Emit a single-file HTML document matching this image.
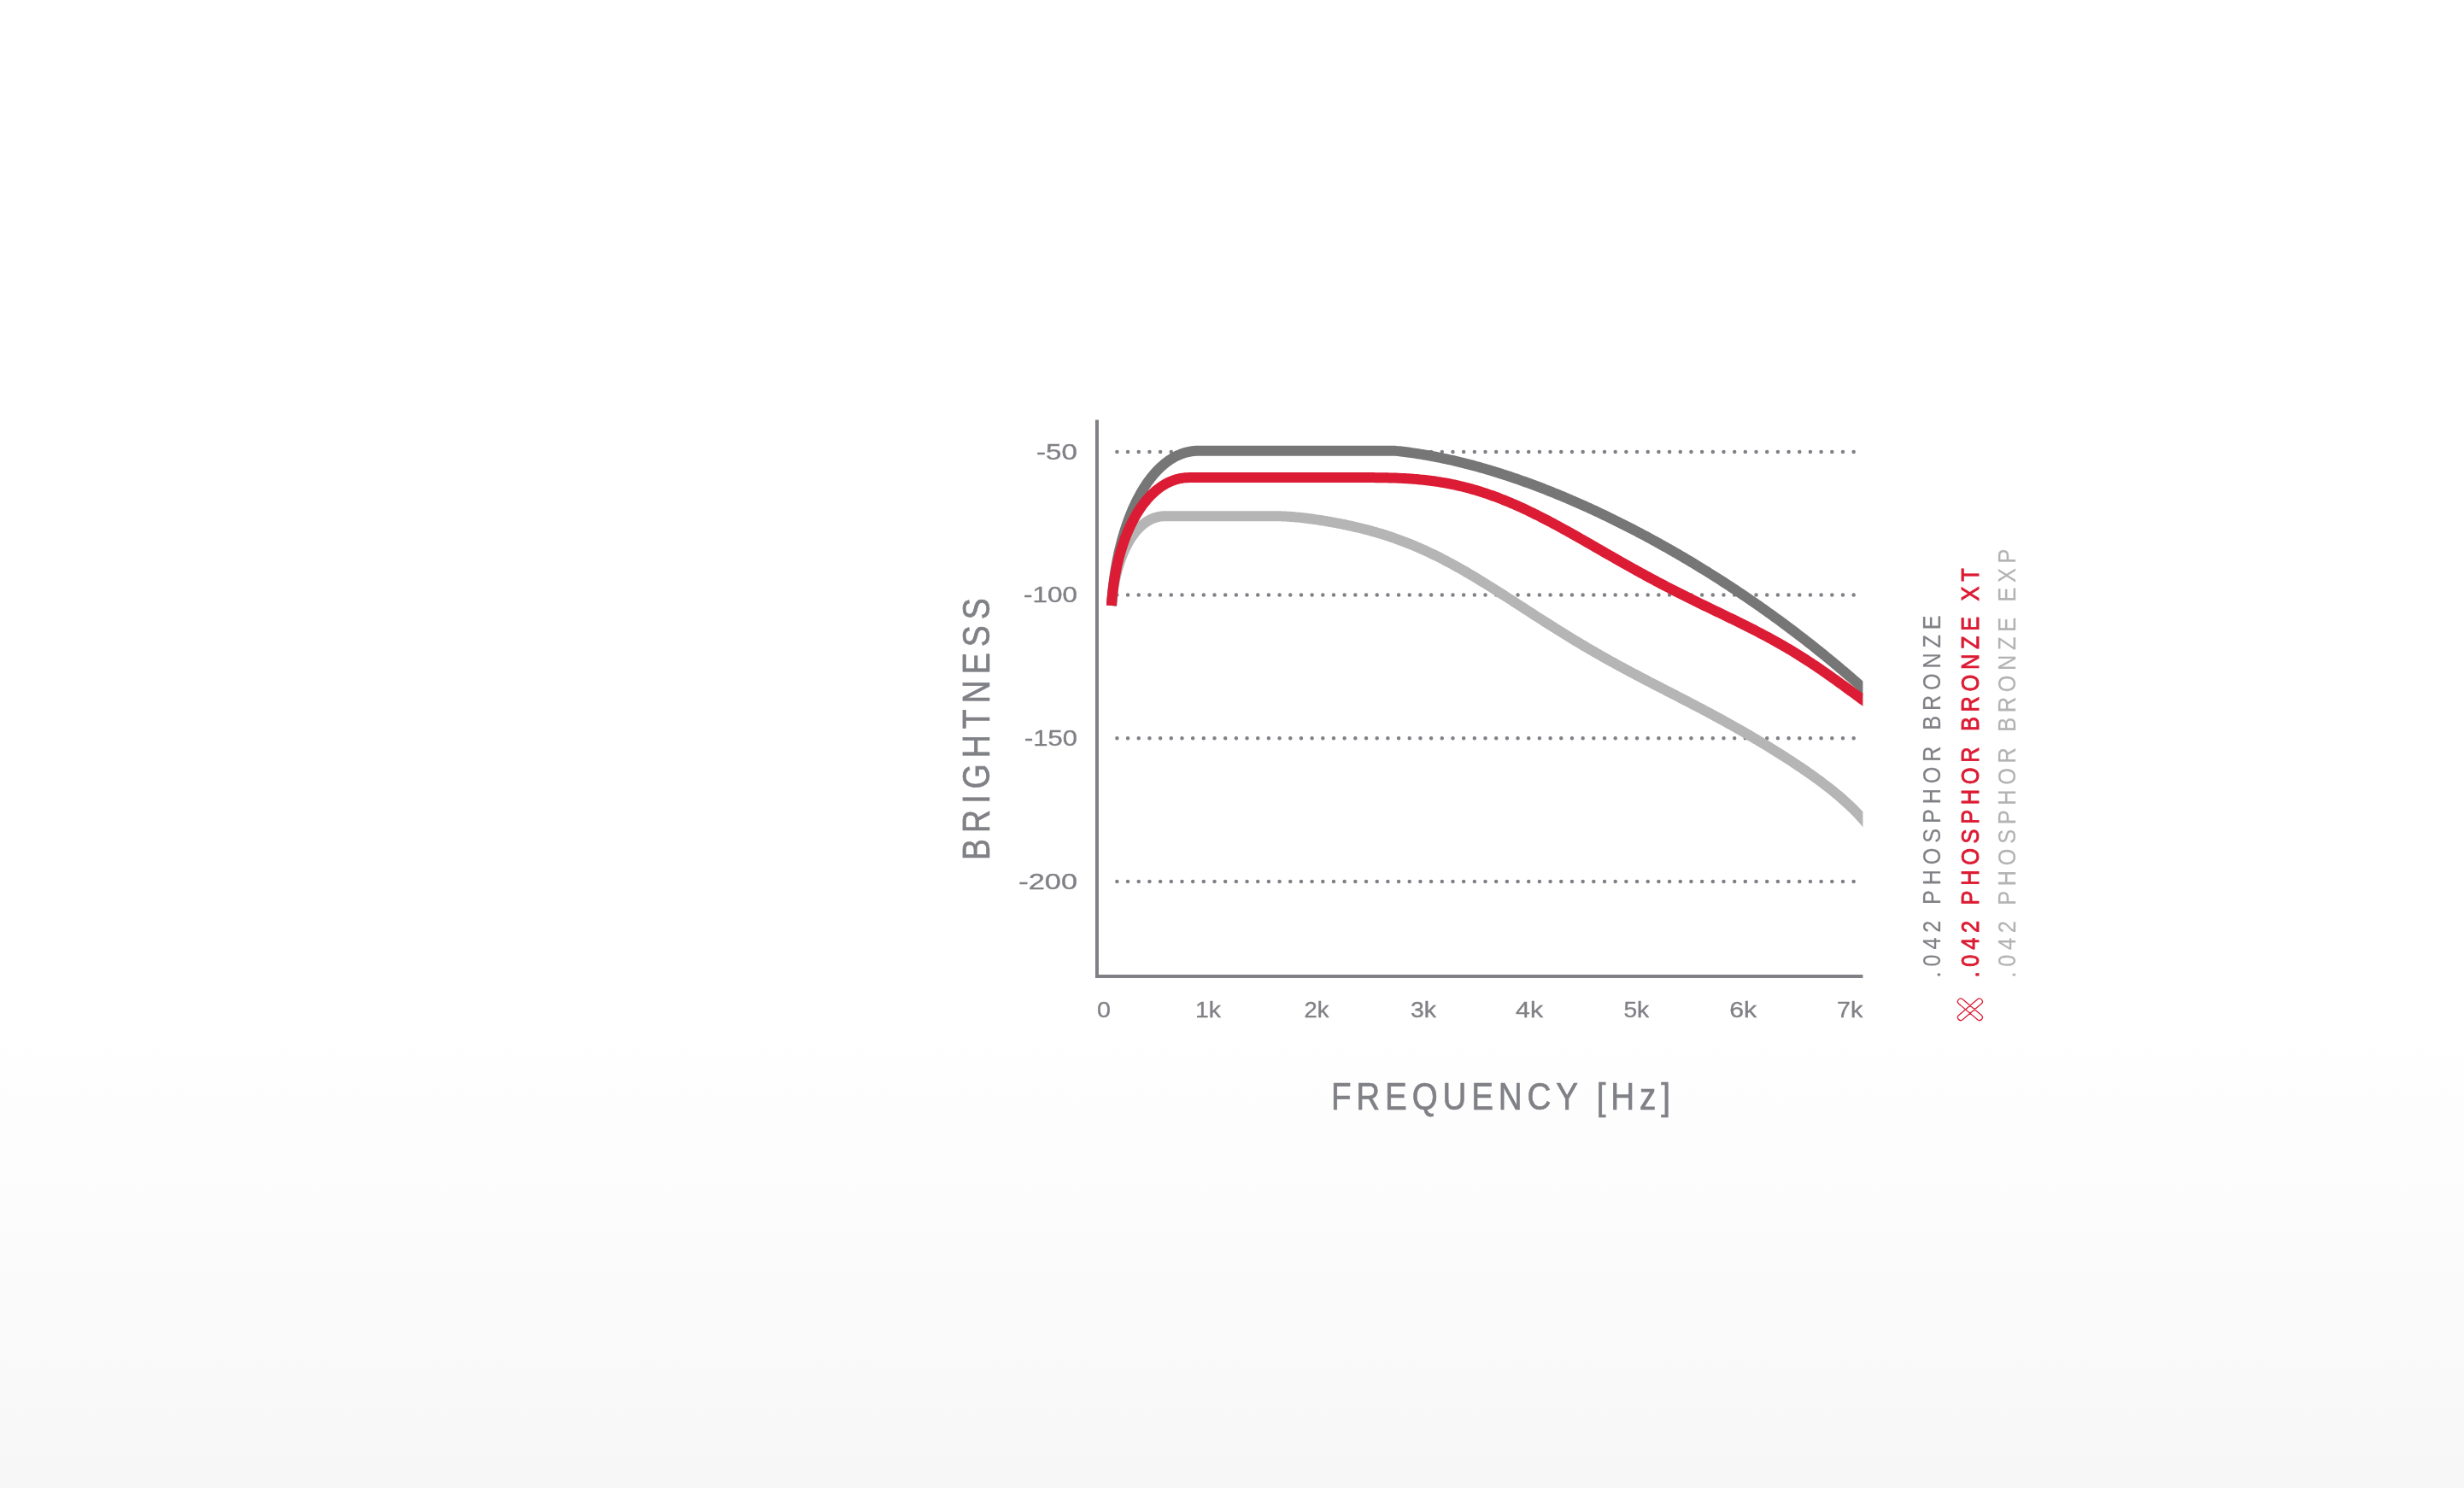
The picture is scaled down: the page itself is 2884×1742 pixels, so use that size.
<!DOCTYPE html><html><head><meta charset="utf-8"><title>Brightness vs Frequency</title><style>
html,body{margin:0;padding:0;}
body{width:2884px;height:1742px;overflow:hidden;position:relative;background:linear-gradient(to bottom,#ffffff 0px,#ffffff 1185px,#f7f7f7 1742px);}
svg{position:absolute;left:0;top:0;will-change:transform;}
text{font-family:'Liberation Sans', 'DejaVu Sans', sans-serif;}
</style></head><body>
<svg width="2884" height="1742" viewBox="0 0 2884 1742">
<defs><clipPath id="plot"><rect x="1286" y="480" width="894.4" height="700"/></clipPath></defs>
<g stroke="#808186" stroke-width="4.5" stroke-linecap="round" stroke-dasharray="0 12.68">
<line x1="1307.4" y1="528.9" x2="2170.7" y2="528.9"/>
<line x1="1307.4" y1="696.5" x2="2170.7" y2="696.5"/>
<line x1="1307.4" y1="864.3" x2="2170.7" y2="864.3"/>
<line x1="1307.4" y1="1031.9" x2="2170.7" y2="1031.9"/>
</g>
<g clip-path="url(#plot)" fill="none" stroke-width="12" stroke-linejoin="round" stroke-linecap="butt">
<path stroke="#b5b5b5" d="M1301 709L1301.22 706.13L1301.47 703.28L1301.75 700.45L1302.06 697.63L1302.41 694.84L1302.79 692.08L1303.2 689.33L1303.64 686.61L1304.11 683.92L1304.61 681.25L1305.15 678.61L1305.71 676L1306.3 673.42L1306.93 670.87L1307.58 668.35L1308.26 665.86L1308.97 663.41L1309.71 660.99L1310.48 658.61L1311.27 656.26L1312.1 653.95L1312.95 651.69L1313.83 649.46L1314.73 647.27L1315.66 645.12L1316.62 643.02L1317.61 640.96L1318.62 638.95L1319.65 636.98L1320.71 635.06L1321.8 633.18L1322.91 631.36L1324.05 629.58L1325.21 627.86L1326.39 626.19L1327.6 624.57L1328.83 623.01L1330.08 621.5L1331.36 620.04L1332.66 618.65L1333.98 617.31L1335.33 616.03L1336.69 614.81L1338.08 613.66L1339.49 612.56L1340.92 611.53L1342.37 610.56L1343.84 609.66L1345.33 608.82L1346.84 608.06L1348.38 607.36L1349.93 606.73L1351.5 606.17L1353.09 605.68L1354.69 605.26L1356.32 604.92L1357.96 604.65L1359.62 604.46L1361.3 604.34L1363 604.3L1495 604.3L1497 604.31L1499 604.34L1501 604.4L1503 604.47L1505 604.56L1507 604.67L1509 604.79L1511 604.93L1513 605.08L1515 605.25L1517 605.43L1519 605.62L1521 605.82L1523 606.04L1525 606.26L1527 606.49L1529 606.74L1531 606.99L1533 607.25L1535 607.52L1537 607.79L1539 608.08L1541 608.37L1543 608.67L1545 608.98L1547 609.29L1549 609.61L1551 609.94L1553 610.27L1555 610.62L1557 610.96L1559 611.32L1561 611.68L1563 612.05L1565 612.43L1567 612.81L1569 613.2L1571 613.6L1573 614L1575 614.42L1577 614.84L1579 615.26L1581 615.7L1583 616.14L1585 616.6L1587 617.06L1589 617.53L1591 618.01L1593 618.49L1595 618.99L1597 619.49L1599 620.01L1601 620.53L1603 621.07L1605 621.61L1607 622.17L1609 622.73L1611 623.31L1613 623.89L1615 624.49L1617 625.1L1619 625.71L1621 626.34L1623 626.98L1625 627.64L1627 628.3L1629 628.97L1631 629.66L1633 630.36L1635 631.07L1637 631.79L1639 632.52L1641 633.27L1643 634.03L1645 634.8L1647 635.58L1649 636.38L1651 637.18L1653 638L1655 638.83L1657 639.67L1659 640.53L1661 641.4L1663 642.28L1665 643.17L1667 644.07L1669 644.99L1671 645.92L1673 646.85L1675 647.8L1677 648.77L1679 649.74L1681 650.73L1683 651.72L1685 652.73L1687 653.75L1689 654.78L1691 655.82L1693 656.87L1695 657.93L1697 659L1699 660.08L1701 661.17L1703 662.28L1705 663.39L1707 664.51L1709 665.63L1711 666.77L1713 667.92L1715 669.07L1717 670.24L1719 671.41L1721 672.59L1723 673.77L1725 674.97L1727 676.17L1729 677.37L1731 678.59L1733 679.81L1735 681.03L1737 682.27L1739 683.5L1741 684.75L1743 685.99L1745 687.25L1747 688.5L1749 689.77L1751 691.03L1753 692.3L1755 693.57L1757 694.85L1759 696.13L1761 697.41L1763 698.7L1765 699.98L1767 701.27L1769 702.56L1771 703.85L1773 705.14L1775 706.44L1777 707.73L1779 709.03L1781 710.32L1783 711.62L1785 712.91L1787 714.21L1789 715.5L1791 716.8L1793 718.09L1795 719.38L1797 720.67L1799 721.96L1801 723.24L1803 724.53L1805 725.81L1807 727.09L1809 728.36L1811 729.64L1813 730.91L1815 732.18L1817 733.44L1819 734.7L1821 735.96L1823 737.21L1825 738.47L1827 739.71L1829 740.95L1831 742.19L1833 743.43L1835 744.66L1837 745.88L1839 747.11L1841 748.32L1843 749.54L1845 750.74L1847 751.95L1849 753.15L1851 754.34L1853 755.53L1855 756.71L1857 757.89L1859 759.07L1861 760.24L1863 761.4L1865 762.56L1867 763.72L1869 764.87L1871 766.01L1873 767.15L1875 768.29L1877 769.42L1879 770.55L1881 771.67L1883 772.79L1885 773.9L1887 775.01L1889 776.11L1891 777.21L1893 778.31L1895 779.4L1897 780.49L1899 781.57L1901 782.65L1903 783.73L1905 784.8L1907 785.87L1909 786.94L1911 788L1913 789.06L1915 790.12L1917 791.17L1919 792.22L1921 793.27L1923 794.32L1925 795.37L1927 796.41L1929 797.45L1931 798.49L1933 799.52L1935 800.56L1937 801.59L1939 802.63L1941 803.66L1943 804.69L1945 805.72L1947 806.75L1949 807.78L1951 808.81L1953 809.84L1955 810.87L1957 811.89L1959 812.92L1961 813.95L1963 814.98L1965 816.02L1967 817.05L1969 818.08L1971 819.12L1973 820.15L1975 821.19L1977 822.23L1979 823.27L1981 824.32L1983 825.36L1985 826.41L1987 827.46L1989 828.51L1991 829.57L1993 830.62L1995 831.68L1997 832.75L1999 833.81L2001 834.88L2003 835.96L2005 837.03L2007 838.11L2009 839.2L2011 840.28L2013 841.37L2015 842.47L2017 843.57L2019 844.67L2021 845.77L2023 846.88L2025 848L2027 849.12L2029 850.24L2031 851.37L2033 852.5L2035 853.63L2037 854.77L2039 855.92L2041 857.07L2043 858.22L2045 859.38L2047 860.54L2049 861.71L2051 862.89L2053 864.06L2055 865.25L2057 866.43L2059 867.63L2061 868.83L2063 870.03L2065 871.24L2067 872.45L2069 873.67L2071 874.89L2073 876.12L2075 877.36L2077 878.6L2079 879.85L2081 881.1L2083 882.36L2085 883.62L2087 884.89L2089 886.17L2091 887.45L2093 888.74L2095 890.04L2097 891.35L2099 892.66L2101 893.98L2103 895.31L2105 896.64L2107 897.99L2109 899.34L2111 900.7L2113 902.07L2115 903.46L2117 904.85L2119 906.25L2121 907.67L2123 909.09L2125 910.53L2127 911.99L2129 913.45L2131 914.93L2133 916.43L2135 917.94L2137 919.47L2139 921.01L2141 922.58L2143 924.16L2145 925.77L2147 927.39L2149 929.04L2151 930.71L2153 932.41L2155 934.13L2157 935.88L2159 937.67L2161 939.48L2163 941.32L2165 943.2L2167 945.11L2169 947.06L2171 949.05L2173 951.09L2175 953.16L2177 955.28L2179 957.45L2181 959.67L2183 961.95L2185 964.28L2187 966.66L2189 969.11L2191 971.62L2193 974.2L2195 976.85"/>
<path stroke="#767676" d="M1301 709L1301.33 704.03L1301.71 699.09L1302.15 694.19L1302.65 689.32L1303.2 684.49L1303.8 679.69L1304.46 674.94L1305.17 670.23L1305.93 665.57L1306.74 660.95L1307.61 656.38L1308.53 651.85L1309.49 647.38L1310.51 642.97L1311.58 638.6L1312.7 634.3L1313.86 630.05L1315.08 625.86L1316.34 621.74L1317.64 617.68L1319 613.68L1320.4 609.75L1321.85 605.89L1323.34 602.11L1324.88 598.39L1326.46 594.75L1328.08 591.18L1329.75 587.69L1331.46 584.28L1333.21 580.96L1335.01 577.71L1336.84 574.55L1338.72 571.48L1340.64 568.5L1342.59 565.6L1344.59 562.8L1346.62 560.09L1348.7 557.48L1350.81 554.96L1352.96 552.54L1355.14 550.23L1357.36 548.01L1359.62 545.91L1361.91 543.9L1364.24 542.01L1366.6 540.22L1369 538.54L1371.43 536.98L1373.89 535.54L1376.38 534.2L1378.91 532.99L1381.47 531.9L1384.05 530.93L1386.67 530.08L1389.32 529.36L1392 528.77L1394.71 528.3L1397.44 527.97L1400.21 527.77L1403 527.7L1632 527.7L1634 527.9L1636 528.11L1638 528.33L1640 528.56L1642 528.79L1644 529.04L1646 529.29L1648 529.55L1650 529.81L1652 530.09L1654 530.37L1656 530.66L1658 530.96L1660 531.27L1662 531.58L1664 531.91L1666 532.24L1668 532.57L1670 532.92L1672 533.27L1674 533.63L1676 534L1678 534.37L1680 534.75L1682 535.14L1684 535.54L1686 535.94L1688 536.35L1690 536.77L1692 537.19L1694 537.63L1696 538.07L1698 538.51L1700 538.96L1702 539.42L1704 539.89L1706 540.36L1708 540.84L1710 541.33L1712 541.82L1714 542.32L1716 542.83L1718 543.34L1720 543.86L1722 544.39L1724 544.92L1726 545.46L1728 546.01L1730 546.56L1732 547.12L1734 547.68L1736 548.25L1738 548.83L1740 549.42L1742 550L1744 550.6L1746 551.2L1748 551.81L1750 552.43L1752 553.05L1754 553.67L1756 554.3L1758 554.94L1760 555.59L1762 556.24L1764 556.89L1766 557.55L1768 558.22L1770 558.89L1772 559.57L1774 560.26L1776 560.95L1778 561.65L1780 562.35L1782 563.05L1784 563.77L1786 564.49L1788 565.21L1790 565.94L1792 566.68L1794 567.42L1796 568.16L1798 568.91L1800 569.67L1802 570.43L1804 571.2L1806 571.97L1808 572.75L1810 573.54L1812 574.33L1814 575.12L1816 575.92L1818 576.73L1820 577.54L1822 578.35L1824 579.17L1826 580L1828 580.83L1830 581.66L1832 582.5L1834 583.35L1836 584.2L1838 585.06L1840 585.92L1842 586.79L1844 587.66L1846 588.53L1848 589.42L1850 590.3L1852 591.19L1854 592.09L1856 592.99L1858 593.9L1860 594.81L1862 595.72L1864 596.65L1866 597.57L1868 598.5L1870 599.44L1872 600.38L1874 601.32L1876 602.27L1878 603.23L1880 604.19L1882 605.15L1884 606.12L1886 607.1L1888 608.08L1890 609.06L1892 610.05L1894 611.04L1896 612.04L1898 613.04L1900 614.05L1902 615.06L1904 616.08L1906 617.1L1908 618.13L1910 619.16L1912 620.19L1914 621.24L1916 622.28L1918 623.33L1920 624.39L1922 625.45L1924 626.51L1926 627.58L1928 628.65L1930 629.73L1932 630.81L1934 631.9L1936 632.99L1938 634.09L1940 635.19L1942 636.3L1944 637.41L1946 638.53L1948 639.65L1950 640.77L1952 641.9L1954 643.04L1956 644.18L1958 645.32L1960 646.47L1962 647.63L1964 648.79L1966 649.95L1968 651.12L1970 652.29L1972 653.47L1974 654.65L1976 655.84L1978 657.03L1980 658.23L1982 659.43L1984 660.64L1986 661.85L1988 663.06L1990 664.29L1992 665.51L1994 666.74L1996 667.98L1998 669.22L2000 670.47L2002 671.72L2004 672.97L2006 674.23L2008 675.5L2010 676.77L2012 678.04L2014 679.32L2016 680.61L2018 681.9L2020 683.2L2022 684.5L2024 685.8L2026 687.11L2028 688.43L2030 689.75L2032 691.08L2034 692.41L2036 693.74L2038 695.09L2040 696.43L2042 697.79L2044 699.14L2046 700.51L2048 701.87L2050 703.25L2052 704.62L2054 706.01L2056 707.4L2058 708.79L2060 710.19L2062 711.6L2064 713.01L2066 714.43L2068 715.85L2070 717.27L2072 718.71L2074 720.15L2076 721.59L2078 723.04L2080 724.5L2082 725.96L2084 727.42L2086 728.9L2088 730.37L2090 731.86L2092 733.35L2094 734.84L2096 736.34L2098 737.85L2100 739.37L2102 740.88L2104 742.41L2106 743.94L2108 745.48L2110 747.02L2112 748.57L2114 750.13L2116 751.69L2118 753.25L2120 754.83L2122 756.41L2124 757.99L2126 759.59L2128 761.19L2130 762.79L2132 764.4L2134 766.02L2136 767.65L2138 769.28L2140 770.92L2142 772.56L2144 774.21L2146 775.87L2148 777.53L2150 779.2L2152 780.88L2154 782.57L2156 784.26L2158 785.95L2160 787.66L2162 789.37L2164 791.09L2166 792.82L2168 794.55L2170 796.29L2172 798.04L2174 799.79L2176 801.55L2178 803.32L2180 805.1L2182 806.88L2184 808.67L2186 810.47L2188 812.28L2190 814.09L2192 815.91L2194 817.74L2196 819.57"/>
<path stroke="#dc1c34" d="M1301 709L1301.28 704.89L1301.6 700.81L1301.98 696.75L1302.41 692.73L1302.89 688.73L1303.41 684.77L1303.99 680.84L1304.61 676.95L1305.28 673.09L1306 669.27L1306.77 665.49L1307.58 661.75L1308.44 658.06L1309.34 654.4L1310.29 650.8L1311.28 647.24L1312.32 643.73L1313.4 640.26L1314.53 636.85L1315.69 633.49L1316.9 630.19L1318.15 626.94L1319.44 623.75L1320.78 620.62L1322.15 617.55L1323.56 614.53L1325.02 611.59L1326.51 608.7L1328.04 605.88L1329.61 603.13L1331.21 600.45L1332.85 597.84L1334.53 595.3L1336.25 592.83L1338 590.44L1339.79 588.12L1341.61 585.88L1343.46 583.72L1345.35 581.64L1347.27 579.64L1349.23 577.73L1351.22 575.9L1353.24 574.15L1355.29 572.5L1357.37 570.93L1359.48 569.45L1361.62 568.07L1363.8 566.77L1366 565.58L1368.23 564.48L1370.49 563.48L1372.77 562.57L1375.09 561.77L1377.42 561.07L1379.79 560.47L1382.18 559.98L1384.6 559.6L1387.04 559.32L1389.51 559.16L1392 559.1L1580 559.1L1582 559.1L1584 559.1L1586 559.1L1588 559.09L1590 559.09L1592 559.09L1594 559.09L1596 559.09L1598 559.09L1600 559.09L1602 559.1L1604 559.1L1606 559.11L1608 559.12L1610 559.14L1612 559.15L1614 559.17L1616 559.19L1618 559.22L1620 559.25L1622 559.29L1624 559.33L1626 559.38L1628 559.43L1630 559.49L1632 559.55L1634 559.62L1636 559.7L1638 559.78L1640 559.87L1642 559.97L1644 560.07L1646 560.19L1648 560.31L1650 560.44L1652 560.57L1654 560.72L1656 560.88L1658 561.04L1660 561.22L1662 561.41L1664 561.6L1666 561.81L1668 562.02L1670 562.25L1672 562.49L1674 562.74L1676 563L1678 563.27L1680 563.55L1682 563.84L1684 564.15L1686 564.47L1688 564.8L1690 565.14L1692 565.5L1694 565.87L1696 566.25L1698 566.64L1700 567.05L1702 567.46L1704 567.9L1706 568.34L1708 568.8L1710 569.27L1712 569.75L1714 570.25L1716 570.76L1718 571.29L1720 571.82L1722 572.37L1724 572.94L1726 573.52L1728 574.11L1730 574.71L1732 575.33L1734 575.96L1736 576.6L1738 577.26L1740 577.93L1742 578.61L1744 579.3L1746 580.01L1748 580.73L1750 581.46L1752 582.21L1754 582.97L1756 583.74L1758 584.52L1760 585.32L1762 586.12L1764 586.94L1766 587.77L1768 588.61L1770 589.47L1772 590.33L1774 591.2L1776 592.09L1778 592.99L1780 593.89L1782 594.81L1784 595.74L1786 596.68L1788 597.62L1790 598.58L1792 599.55L1794 600.52L1796 601.51L1798 602.5L1800 603.5L1802 604.51L1804 605.53L1806 606.55L1808 607.59L1810 608.63L1812 609.68L1814 610.73L1816 611.79L1818 612.86L1820 613.93L1822 615.01L1824 616.1L1826 617.19L1828 618.28L1830 619.39L1832 620.49L1834 621.6L1836 622.72L1838 623.83L1840 624.96L1842 626.08L1844 627.21L1846 628.34L1848 629.48L1850 630.62L1852 631.76L1854 632.9L1856 634.04L1858 635.19L1860 636.33L1862 637.48L1864 638.63L1866 639.78L1868 640.93L1870 642.08L1872 643.23L1874 644.38L1876 645.53L1878 646.68L1880 647.83L1882 648.98L1884 650.13L1886 651.27L1888 652.42L1890 653.56L1892 654.7L1894 655.84L1896 656.98L1898 658.11L1900 659.25L1902 660.38L1904 661.5L1906 662.63L1908 663.75L1910 664.87L1912 665.98L1914 667.09L1916 668.2L1918 669.31L1920 670.41L1922 671.51L1924 672.6L1926 673.69L1928 674.78L1930 675.86L1932 676.94L1934 678.01L1936 679.08L1938 680.15L1940 681.21L1942 682.27L1944 683.33L1946 684.38L1948 685.42L1950 686.46L1952 687.5L1954 688.54L1956 689.57L1958 690.59L1960 691.62L1962 692.63L1964 693.65L1966 694.66L1968 695.67L1970 696.67L1972 697.68L1974 698.67L1976 699.67L1978 700.66L1980 701.65L1982 702.64L1984 703.62L1986 704.6L1988 705.58L1990 706.56L1992 707.53L1994 708.51L1996 709.48L1998 710.45L2000 711.42L2002 712.38L2004 713.35L2006 714.32L2008 715.29L2010 716.25L2012 717.22L2014 718.18L2016 719.15L2018 720.12L2020 721.09L2022 722.06L2024 723.03L2026 724L2028 724.98L2030 725.96L2032 726.94L2034 727.92L2036 728.91L2038 729.89L2040 730.89L2042 731.88L2044 732.89L2046 733.89L2048 734.9L2050 735.92L2052 736.94L2054 737.96L2056 738.99L2058 740.03L2060 741.07L2062 742.12L2064 743.18L2066 744.24L2068 745.32L2070 746.39L2072 747.48L2074 748.57L2076 749.68L2078 750.79L2080 751.91L2082 753.04L2084 754.17L2086 755.32L2088 756.47L2090 757.64L2092 758.81L2094 760L2096 761.19L2098 762.4L2100 763.61L2102 764.83L2104 766.07L2106 767.31L2108 768.57L2110 769.84L2112 771.11L2114 772.4L2116 773.69L2118 775L2120 776.32L2122 777.64L2124 778.98L2126 780.33L2128 781.68L2130 783.05L2132 784.42L2134 785.81L2136 787.2L2138 788.6L2140 790.01L2142 791.42L2144 792.85L2146 794.28L2148 795.71L2150 797.15L2152 798.6L2154 800.05L2156 801.51L2158 802.97L2160 804.43L2162 805.89L2164 807.36L2166 808.82L2168 810.29L2170 811.75L2172 813.21L2174 814.67L2176 816.12L2178 817.57L2180 819.01L2182 820.45L2184 821.87L2186 823.28L2188 824.68L2190 826.07L2192 827.45L2194 828.8L2196 830.14"/>
</g>
<path d="M1284 491.5V1143H2180.4" fill="none" stroke="#808186" stroke-width="4"/>
<text transform="translate(1212.9 538.2)" font-size="25.28" font-weight="normal" fill="#808186" stroke="#808186" stroke-width="0.35" textLength="48.1" lengthAdjust="spacingAndGlyphs">-50</text>
<text transform="translate(1198.1 705.3)" font-size="24.86" font-weight="normal" fill="#808186" stroke="#808186" stroke-width="0.35" textLength="63" lengthAdjust="spacingAndGlyphs">-100</text>
<text transform="translate(1199 873.1)" font-size="25.42" font-weight="normal" fill="#808186" stroke="#808186" stroke-width="0.35" textLength="62.1" lengthAdjust="spacingAndGlyphs">-150</text>
<text transform="translate(1192.2 1041.1)" font-size="25.28" font-weight="normal" fill="#808186" stroke="#808186" stroke-width="0.35" textLength="68.9" lengthAdjust="spacingAndGlyphs">-200</text>
<text transform="translate(1284 1191)" font-size="25.56" font-weight="normal" fill="#808186" stroke="#808186" stroke-width="0.35" textLength="16" lengthAdjust="spacingAndGlyphs">0</text>
<text transform="translate(1399.1 1191)" font-size="25.56" font-weight="normal" fill="#808186" stroke="#808186" stroke-width="0.35" textLength="29.9" lengthAdjust="spacingAndGlyphs">1k</text>
<text transform="translate(1526.5 1191)" font-size="25.56" font-weight="normal" fill="#808186" stroke="#808186" stroke-width="0.35" textLength="28.9" lengthAdjust="spacingAndGlyphs">2k</text>
<text transform="translate(1651 1191)" font-size="25.56" font-weight="normal" fill="#808186" stroke="#808186" stroke-width="0.35" textLength="30.1" lengthAdjust="spacingAndGlyphs">3k</text>
<text transform="translate(1774.1 1191)" font-size="25.56" font-weight="normal" fill="#808186" stroke="#808186" stroke-width="0.35" textLength="32" lengthAdjust="spacingAndGlyphs">4k</text>
<text transform="translate(1900.4 1191)" font-size="25.56" font-weight="normal" fill="#808186" stroke="#808186" stroke-width="0.35" textLength="29.85" lengthAdjust="spacingAndGlyphs">5k</text>
<text transform="translate(2024.25 1191)" font-size="25.56" font-weight="normal" fill="#808186" stroke="#808186" stroke-width="0.35" textLength="32" lengthAdjust="spacingAndGlyphs">6k</text>
<text transform="translate(2150 1191)" font-size="25.56" font-weight="normal" fill="#808186" stroke="#808186" stroke-width="0.35" textLength="30.25" lengthAdjust="spacingAndGlyphs">7k</text>
<text transform="translate(1557.9 1298.75) scale(0.86 1)" font-size="44.91" font-weight="normal" fill="#808186" stroke="#808186" stroke-width="0.7" textLength="461.63" lengthAdjust="spacing">FREQUENCY [Hz]</text>
<text transform="translate(1158.2 1006.9) rotate(-90) scale(0.86 1)" font-size="43.6" font-weight="normal" fill="#808186" stroke="#808186" stroke-width="0.7" textLength="356.51" lengthAdjust="spacing">BRIGHTNESS</text>
<text transform="translate(2271 1144.4) rotate(-90) scale(0.88 1)" font-size="28.6" font-weight="normal" fill="#808186" stroke="#808186" stroke-width="0.2" textLength="481.82" lengthAdjust="spacing">.042 PHOSPHOR BRONZE</text>
<text transform="translate(2315.7 1144.4) rotate(-90) scale(0.88 1)" font-size="28.8" font-weight="normal" fill="#dc1c34" stroke="#dc1c34" stroke-width="0.9" textLength="544.43" lengthAdjust="spacing">.042 PHOSPHOR BRONZE XT</text>
<text transform="translate(2358.6 1144.4) rotate(-90) scale(0.88 1)" font-size="28.8" font-weight="normal" fill="#b3b3b3" stroke="#b3b3b3" stroke-width="0.2" textLength="570.34" lengthAdjust="spacing">.042 PHOSPHOR BRONZE EXP</text>
<path d="M2297.09 1169.84L2309.44 1180.27A2.8 2.8 0 0 0 2313.05 1180.27L2319.16 1175.11A3.45 3.45 0 0 0 2314.71 1169.84L2292.64 1188.49A3.45 3.45 0 0 0 2297.09 1193.76L2309.44 1183.33A2.8 2.8 0 0 1 2313.05 1183.33L2319.16 1188.49A3.45 3.45 0 0 1 2314.71 1193.76L2292.64 1175.11A3.45 3.45 0 0 1 2297.09 1169.84Z" fill="none" stroke="#dc1c34" stroke-width="1.3" stroke-linejoin="round"/>
</svg></body></html>
